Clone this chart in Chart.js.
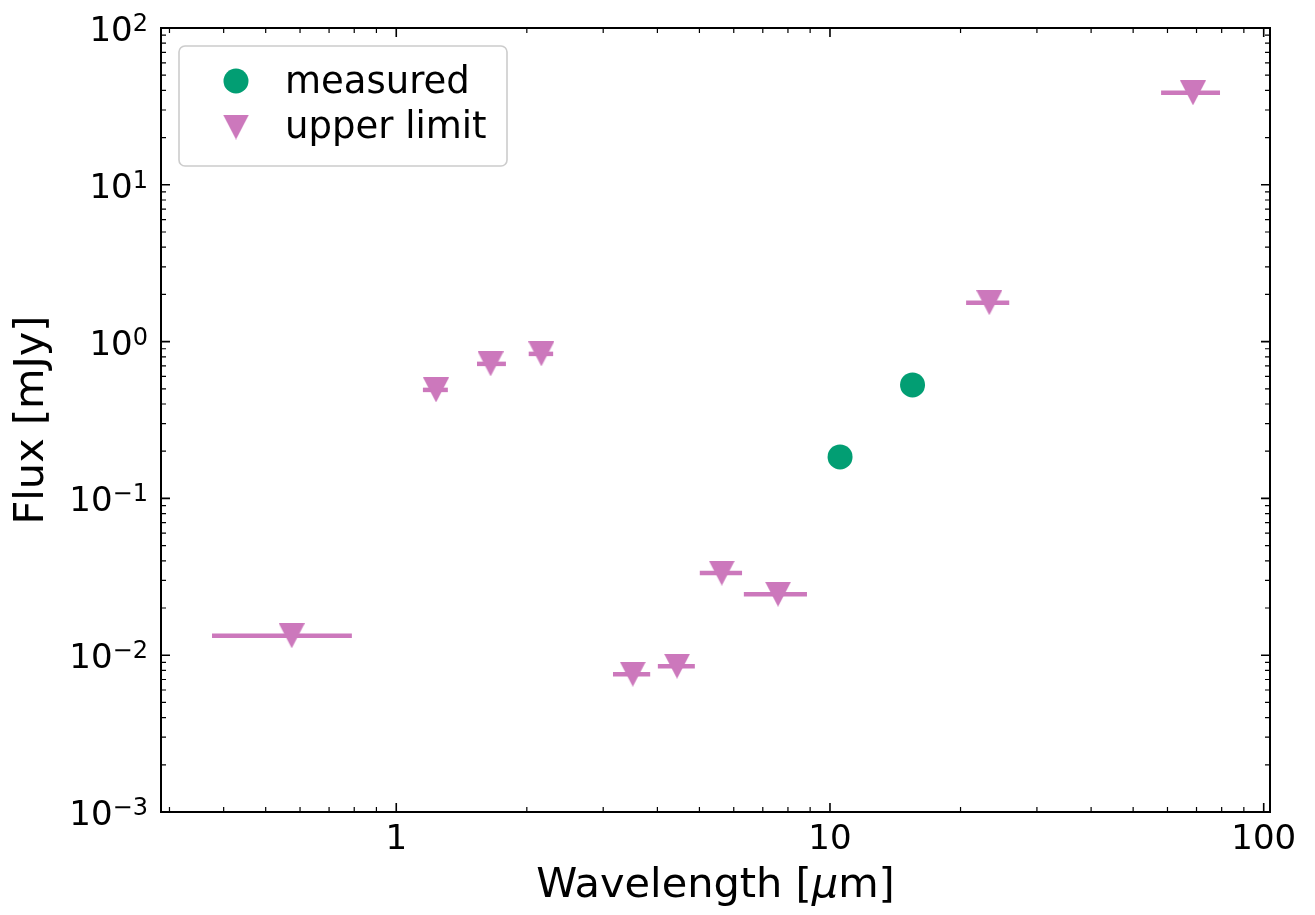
<!DOCTYPE html>
<html>
<head>
<meta charset="utf-8">
<script src="https://cdn.jsdelivr.net/npm/chart.js@4.4.1/dist/chart.umd.min.js"></script>
<style>
  html, body { margin: 0; padding: 0; background: #fff; }
  #sed { display: block; }
</style>
</head>
<body>
<canvas id="sed" width="1315" height="915"></canvas>
<script>
// photometry: upper limits (with band widths) and two detections
const limitWave = [0.574, 1.235, 1.65, 2.16, 3.51, 4.44, 5.63, 7.59, 23.3, 68.7];
const limitFlux = [0.0133, 0.492, 0.721, 0.835, 0.00757, 0.00851, 0.0334, 0.0245, 1.77, 38.6];
const bandLo = [0.376, 1.152, 1.535, 2.02, 3.16, 4.01, 5.01, 6.33, 20.6, 58.0];
const bandHi = [0.79, 1.315, 1.79, 2.30, 3.85, 4.88, 6.27, 8.85, 25.9, 79.3];
const measuredWave = [10.55, 15.5];
const measuredFlux = [0.184, 0.529];

const xTicks = [1, 10, 100];
const xTickLabels = ['1', '10', '100'];
const yExponents = [-3, -2, -1, 0, 1, 2];

const GREEN = '#029e73';
const PINK = '#cc78bc';
const FONT = '"DejaVu Sans", sans-serif';

// matplotlib style 'v' marker, centred on its bounding box
const tri = document.createElement('canvas');
tri.width = 26; tri.height = 25;
(function () {
    const c = tri.getContext('2d');
    c.fillStyle = PINK;
    c.beginPath();
    c.moveTo(0, 0); c.lineTo(26, 0); c.lineTo(13, 25);
    c.closePath();
    c.fill();
})();

const errorBars = {
    id: 'errorBars',
    beforeDatasetsDraw(chart) {
        const ctx = chart.ctx, xs = chart.scales.x, ys = chart.scales.y;
        ctx.save();
        ctx.strokeStyle = PINK;
        ctx.lineWidth = 4.5;
        ctx.lineCap = 'butt';
        for (let i = 0; i < limitWave.length; i++) {
            const y = ys.getPixelForValue(limitFlux[i]);
            ctx.beginPath();
            ctx.moveTo(xs.getPixelForValue(bandLo[i]), y);
            ctx.lineTo(xs.getPixelForValue(bandHi[i]), y);
            ctx.stroke();
        }
        ctx.restore();
    }
};

const decor = {
    id: 'decor',
    afterDraw(chart) {
        const ctx = chart.ctx, xs = chart.scales.x, ys = chart.scales.y;
        const a = chart.chartArea;
        ctx.save();

        // ticks on all four sides, pointing in
        function tickX(v, len, w) {
            const p = xs.getPixelForValue(v);
            if (p < a.left - 0.5 || p > a.right + 0.5) return;
            ctx.lineWidth = w;
            ctx.beginPath();
            ctx.moveTo(p, a.bottom); ctx.lineTo(p, a.bottom - len);
            ctx.moveTo(p, a.top); ctx.lineTo(p, a.top + len);
            ctx.stroke();
        }
        function tickY(v, len, w) {
            const p = ys.getPixelForValue(v);
            if (p < a.top - 0.5 || p > a.bottom + 0.5) return;
            ctx.lineWidth = w;
            ctx.beginPath();
            ctx.moveTo(a.left, p); ctx.lineTo(a.left + len, p);
            ctx.moveTo(a.right, p); ctx.lineTo(a.right - len, p);
            ctx.stroke();
        }
        ctx.strokeStyle = '#000';
        for (let e = -1; e <= 2; e++) {
            for (let m = 1; m <= 9; m++) {
                tickX(m * Math.pow(10, e), m === 1 ? 9 : 5, m === 1 ? 1.6 : 1.2);
            }
        }
        for (let e = -3; e <= 2; e++) {
            for (let m = 1; m <= 9; m++) {
                tickY(m * Math.pow(10, e), m === 1 ? 9 : 5, m === 1 ? 1.6 : 1.2);
            }
        }

        // frame
        ctx.lineWidth = 2;
        ctx.strokeRect(a.left, a.top, a.right - a.left, a.bottom - a.top);

        // x tick labels
        ctx.fillStyle = '#000';
        ctx.font = '34px ' + FONT;
        ctx.textAlign = 'center';
        ctx.textBaseline = 'alphabetic';
        xTicks.forEach((v, i) => {
            ctx.fillText(xTickLabels[i], xs.getPixelForValue(v), a.bottom + 37);
        });

        // y tick labels 10^n
        ctx.textAlign = 'right';
        yExponents.forEach(n => {
            const p = ys.getPixelForValue(Math.pow(10, n));
            const exp = n < 0 ? '\u2212' + (-n) : String(n);
            ctx.font = '24px ' + FONT;
            const ew = ctx.measureText(exp).width;
            ctx.fillText(exp, 148, p + 3);
            ctx.font = '34px ' + FONT;
            ctx.fillText('10', 148 - ew, p + 13);
        });

        // axis titles
        const tf = '41.5px ' + FONT;
        const cx = (a.left + a.right) / 2;
        const parts = [['Wavelength [', tf], ['\u03bc', 'italic ' + tf], ['m]', tf]];
        let total = 0;
        parts.forEach(p => { ctx.font = p[1]; total += ctx.measureText(p[0]).width; });
        let x0 = cx - total / 2;
        ctx.textAlign = 'left';
        parts.forEach(p => {
            ctx.font = p[1];
            ctx.fillText(p[0], x0, 897);
            x0 += ctx.measureText(p[0]).width;
        });

        ctx.save();
        ctx.translate(43, (a.top + a.bottom) / 2);
        ctx.rotate(-Math.PI / 2);
        ctx.textAlign = 'center';
        ctx.font = tf;
        ctx.fillText('Flux [mJy]', 0, 0);
        ctx.restore();

        // legend
        const bx = 179, by = 46, bw = 328, bh = 120, r = 6;
        ctx.beginPath();
        ctx.moveTo(bx + r, by);
        ctx.arcTo(bx + bw, by, bx + bw, by + bh, r);
        ctx.arcTo(bx + bw, by + bh, bx, by + bh, r);
        ctx.arcTo(bx, by + bh, bx, by, r);
        ctx.arcTo(bx, by, bx + bw, by, r);
        ctx.closePath();
        ctx.fillStyle = 'rgba(255,255,255,0.8)';
        ctx.fill();
        ctx.strokeStyle = '#cccccc';
        ctx.lineWidth = 1.6;
        ctx.stroke();

        ctx.fillStyle = GREEN;
        ctx.beginPath();
        ctx.arc(236, 81, 12.5, 0, Math.PI * 2);
        ctx.fill();
        ctx.drawImage(tri, 236 - 13, 127 - 12.5);

        ctx.fillStyle = '#000';
        ctx.font = '37px ' + FONT;
        ctx.textAlign = 'left';
        ctx.fillText('measured', 285, 93);
        ctx.fillText('upper limit', 285, 138);

        ctx.restore();
    }
};

new Chart(document.getElementById('sed').getContext('2d'), {
    type: 'scatter',
    data: {
        datasets: [{
            label: 'measured',
            data: measuredWave.map((w, i) => ({ x: w, y: measuredFlux[i] })),
            pointStyle: 'circle',
            pointRadius: 12.5,
            pointHoverRadius: 12.5,
            backgroundColor: GREEN,
            borderWidth: 0
        }, {
            label: 'upper limit',
            data: limitWave.map((w, i) => ({ x: w, y: limitFlux[i] })),
            pointStyle: tri,
            pointRadius: 13,
            backgroundColor: PINK,
            borderWidth: 0
        }]
    },
    options: {
        responsive: false,
        animation: false,
        devicePixelRatio: 1,
        layout: { padding: { left: 161, top: 28, right: 45, bottom: 103 } },
        plugins: { legend: { display: false }, tooltip: { enabled: false } },
        scales: {
            x: { type: 'logarithmic', min: 0.2868, max: 103.4, display: false },
            y: { type: 'logarithmic', min: 0.001, max: 100, display: false }
        }
    },
    plugins: [errorBars, decor]
});
</script>
</body>
</html>
